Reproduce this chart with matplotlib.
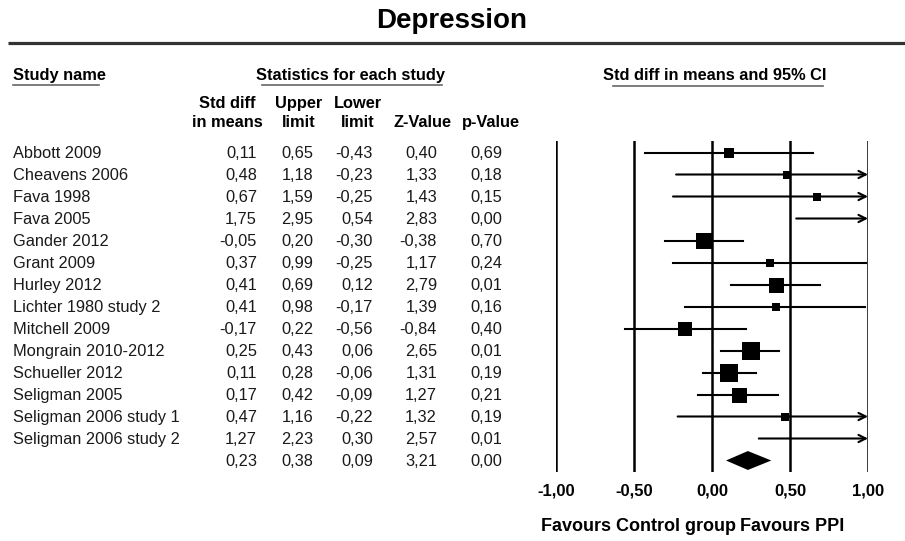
import matplotlib
import matplotlib.pyplot as plt

matplotlib.use("Agg")
plt.rcParams["font.family"] = ["Liberation Sans", "DejaVu Sans"]

studies = [
    "Abbott 2009", "Cheavens 2006", "Fava 1998", "Fava 2005", "Gander 2012",
    "Grant 2009", "Hurley 2012", "Lichter 1980 study 2", "Mitchell 2009",
    "Mongrain 2010-2012", "Schueller 2012", "Seligman 2005",
    "Seligman 2006 study 1", "Seligman 2006 study 2",
]
smd = [0.11, 0.48, 0.67, 1.75, -0.05, 0.37, 0.41, 0.41, -0.17, 0.25, 0.11, 0.17, 0.47, 1.27]
upper = [0.65, 1.18, 1.59, 2.95, 0.20, 0.99, 0.69, 0.98, 0.22, 0.43, 0.28, 0.42, 1.16, 2.23]
lower = [-0.43, -0.23, -0.25, 0.54, -0.30, -0.25, 0.12, -0.17, -0.56, 0.06, -0.06, -0.09, -0.22, 0.30]
z_value = [0.40, 1.33, 1.43, 2.83, -0.38, 1.17, 2.79, 1.39, -0.84, 2.65, 1.31, 1.27, 1.32, 2.57]
p_value = [0.69, 0.18, 0.15, 0.00, 0.70, 0.24, 0.01, 0.16, 0.40, 0.01, 0.19, 0.21, 0.19, 0.01]
# relative weights (box area)
weights = [4.0, 2.6, 3.2, 1.8, 10.2, 3.2, 9.0, 3.2, 6.8, 11.6, 13.0, 9.0, 3.2, 2.2]
summary = [0.23, 0.38, 0.09, 3.21, 0.00]  # smd, upper, lower, z, p

ticks = [-1.0, -0.5, 0.0, 0.5, 1.0]


def fmt(v):
    return f"{v:.2f}".replace(".", ",")


W, H = 905, 541
ROW0, ROW_H = 152.5, 22.0
TOP, BOTTOM = 141, 472

fig = plt.figure(figsize=(W / 100, H / 100), dpi=100)
bg = fig.add_axes([0, 0, 1, 1])
bg.set_xlim(0, W)
bg.set_ylim(H, 0)
bg.axis("off")

# title and rule
bg.text(452, 28, "Depression", ha="center", va="baseline", fontsize=20, fontweight="bold")
bg.plot([8, W], [43, 43], color="#333333", lw=2.3, solid_capstyle="butt")

# group headers with underlines
hdr = dict(va="baseline", fontsize=11.8, fontweight="bold")
bg.text(13, 80, "Study name", ha="left", **hdr)
bg.plot([13, 99], [84.5, 84.5], color="#666666", lw=1.2)
bg.text(350, 80, "Statistics for each study", ha="center", **hdr)
bg.plot([262, 442], [84.5, 84.5], color="#666666", lw=1.2)
bg.text(715, 80, "Std diff in means and 95% CI", ha="center", **hdr)
bg.plot([613, 823], [85.5, 85.5], color="#666666", lw=1.2)

# column headers
col_centers = [227, 299, 358, 422, 491]
col_top = ["Std diff", "Upper", "Lower", "", ""]
col_bot = ["in means", "limit", "limit", "Z-Value", "p-Value"]
for cx, t1, t2 in zip(col_centers, col_top, col_bot):
    if t1:
        bg.text(cx, 108, t1, ha="center", **hdr)
    bg.text(cx, 127, t2, ha="center", **hdr)

# table body
col_right = [257, 313, 373, 437, 502]
body = dict(va="baseline", fontsize=11.8, color="#1a1a1a")
for i, name in enumerate(studies):
    yb = ROW0 + i * ROW_H + 5.8
    bg.text(13, yb, name, ha="left", **body)
    vals = [smd[i], upper[i], lower[i], z_value[i], p_value[i]]
    for xr, v in zip(col_right, vals):
        bg.text(xr, yb, fmt(v), ha="right", **body)
yb = ROW0 + len(studies) * ROW_H + 5.8
for xr, v in zip(col_right, summary):
    bg.text(xr, yb, fmt(v), ha="right", **body)

# forest plot axes
x0, x1 = 556, 868
ax = fig.add_axes([x0 / W, (H - BOTTOM) / H, (x1 - x0) / W, (BOTTOM - TOP) / H])
ax.set_xlim(-1, 1)
ax.set_ylim((BOTTOM - ROW0) / ROW_H, (TOP - ROW0) / ROW_H)
ax.patch.set_visible(False)
for s in ax.spines.values():
    s.set_visible(False)
for t in ticks:
    ax.axvline(t, color="black", lw=1.8, zorder=1)

for i in range(len(studies)):
    lo = max(lower[i], -1)
    hi = min(upper[i], 1)
    if upper[i] > 1:
        ax.annotate("", xy=(1, i), xytext=(lo, i),
                    arrowprops=dict(arrowstyle="->", lw=1.5, color="black",
                                    mutation_scale=13, shrinkA=0, shrinkB=0),
                    annotation_clip=False)
    else:
        ax.plot([lo, hi], [i, i], color="black", lw=1.5, zorder=2)
    if -1 <= smd[i] <= 1:
        side = 5.0 * weights[i] ** 0.5 * 0.72
        ax.plot(smd[i], i, marker="s", ms=side, mew=0, color="black", zorder=3)

n = len(studies)
s_mid, s_up, s_lo = summary[0], summary[1], summary[2]
ax.fill([s_lo, s_mid, s_up, s_mid], [n, n - 0.43, n, n + 0.43], color="black", lw=0, zorder=3)

ax.set_yticks([])
ax.set_xticks(ticks)
ax.set_xticklabels([fmt(t) for t in ticks], fontsize=12, fontweight="bold")
ax.tick_params(axis="x", length=0, pad=8)

bg.text(736, 531, "Favours Control group", ha="right", va="baseline", fontsize=13, fontweight="bold")
bg.text(740, 531, "Favours PPI", ha="left", va="baseline", fontsize=13, fontweight="bold")

fig.savefig("out.png", dpi=100)
plt.close(fig)
